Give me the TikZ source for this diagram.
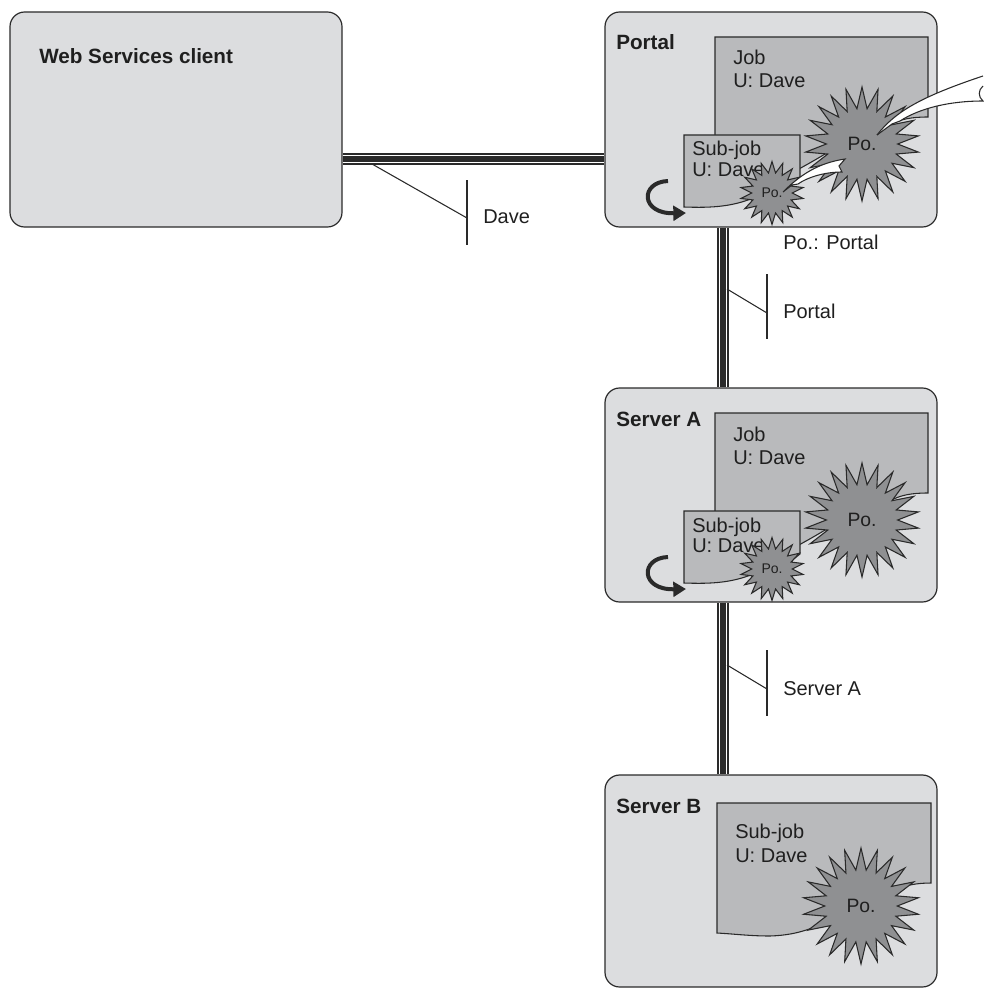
\documentclass[tikz,border=0pt]{standalone}
\usepackage{fontspec}
\setmainfont{Liberation Sans}
\usetikzlibrary{shapes.geometric,arrows.meta}
\definecolor{boxfill}{HTML}{DCDDDF}
\definecolor{docfill}{HTML}{B9BABC}
\definecolor{starfill}{HTML}{8F9092}
\definecolor{linec}{HTML}{2A2A2A}
\definecolor{txt}{HTML}{1F1F1F}
\tikzset{
  box/.style={draw=linec, fill=boxfill, line width=0.9pt, rounded corners=11pt, inner sep=0},
  doc/.style={draw=linec, fill=docfill, line width=0.8pt},
  burst/.style={star, star point ratio=1.6, draw=linec, fill=starfill, line width=0.8pt, inner sep=0, text=txt},
  lbl/.style={font=\fontsize{15}{17}\selectfont, text=txt, inner sep=0, anchor=base west},
  ttl/.style={font=\bfseries\fontsize{15.5}{18}\selectfont, text=txt, inner sep=0, anchor=base west},
  triple/.style={draw=linec, line width=9.4pt, postaction={draw=white, line width=5.55pt}, postaction={draw=linec, line width=3.8pt}},
  leader/.style={draw=linec, line width=0.8pt},
  carrow/.style={draw=linec, line width=3pt, -{Triangle[length=9.5pt,width=11pt]}},
  wline/.style={draw=linec, line width=0.8pt, line join=miter},
}
\begin{document}
\begin{tikzpicture}[x=0.75pt,y=-0.75pt]
\useasboundingbox (0,0) rectangle (983,988);

% boxes
\node[box, minimum width={332*0.75pt}, minimum height={215*0.75pt}] (client) at (176,119.5) {};
\node[box, minimum width={332*0.75pt}, minimum height={215*0.75pt}] (portal) at (771,119.5) {};
\node[box, minimum width={332*0.75pt}, minimum height={214*0.75pt}] (serverA) at (771,495) {};
\node[box, minimum width={332*0.75pt}, minimum height={212*0.75pt}] (serverB) at (771,881) {};

% connectors
\coordinate (hy) at (0,159);
\coordinate (vx) at (723,0);
\draw[triple] (client.east |- hy) -- (portal.west |- hy);
\draw[triple] (portal.south -| vx) -- (serverA.north -| vx);
\draw[triple] (serverA.south -| vx) -- (serverB.north -| vx);

% titles
\node[ttl] (tclient) at (39,64) {Web Services client};
\node[ttl] (tportal) at (616,50) {Portal};
\node[ttl] (tserverA) at (616,426) {Server A};
\node[ttl] (tserverB) at (616,813) {Server B};

% leader labels
\coordinate (d1) at (372,164); \coordinate (d2) at (467,218);
\coordinate (d3) at (467,180); \coordinate (d4) at (467,245);
\draw[leader] (d1) -- (d2); \draw[leader] (d3) -- (d4);
\node[lbl] (ldave) at (483,223) {Dave};

\coordinate (p1) at (727,289); \coordinate (p2) at (767,313);
\coordinate (p3) at (767,274); \coordinate (p4) at (767,339);
\draw[leader] (p1) -- (p2); \draw[leader] (p3) -- (p4);
\node[lbl] (lportal) at (783,318) {Portal};
\node[lbl] (lpo) at (783,249) {Po.: Portal};

\coordinate (s1) at (727,665); \coordinate (s2) at (767,689);
\coordinate (s3) at (767,650); \coordinate (s4) at (767,716);
\draw[leader] (s1) -- (s2); \draw[leader] (s3) -- (s4);
\node[lbl] (lserverA) at (783,695) {Server A};

% job groups in Portal and Server A
\foreach \g/\dy in {p/0,a/376}{
\begin{scope}[shift={(0,\dy)}]
  \draw[doc] (715,37) -- (928,37) -- (928,117) .. controls (912,117) and (900,119) .. (890,125) -- (835,148) .. controls (822,156) and (810,163) .. (797,170) -- (715,170) -- cycle;
  \node[lbl] (\g jobt) at (733,65) {Job};
  \node[lbl] (\g jobu) at (733,88) {U: Dave};
  \draw[doc] (684,135) -- (800,135) -- (800,178) -- (785,190) -- (760,195) .. controls (735,207) and (712,208) .. (684,207) -- cycle;
  \node[lbl] (\g subt) at (692,156) {Sub-job};
  \node[lbl] (\g subu) at (692,176) {U: Dave};
  \node[burst, star points=22, minimum size={114*0.75pt}, font=\fontsize{14.5}{16}\selectfont] (\g big) at (862,144) {Po.};
  \node[burst, star points=18, star point ratio=1.55, minimum size={63*0.75pt}, font=\fontsize{10.5}{12}\selectfont] (\g small) at (772,193) {Po.};
  \coordinate (\g c1) at (668,181);
  \coordinate (\g c2) at (686,213);
  \draw[carrow] (\g c1) .. controls (640,182) and (640,214) .. (\g c2);
\end{scope}
}

% white arrows in Portal
\fill[white] (877,135) .. controls (895,112) and (920,97) .. (983,76) -- (983,86) .. controls (978,90) and (978,97) .. (983,101) .. controls (950,101) and (920,108) .. (900,121) -- (892,124) -- cycle;
\draw[wline] (877,135) .. controls (895,112) and (920,97) .. (983,76);
\draw[wline] (983,86) .. controls (978,90) and (978,97) .. (983,101) .. controls (950,101) and (920,108) .. (900,121) -- (892,124) -- (877,135);
\filldraw[wline, fill=white] (783,192) .. controls (800,175) and (818,163) .. (845,159) -- (839,166) -- (842,172) .. controls (825,172) and (808,177) .. (798,184) -- (792,185) -- cycle;

% Server B
\draw[doc] (717,803) -- (931,803) -- (931,883) .. controls (918,883) and (905,885) .. (895,890) -- (835,918) .. controls (815,927) and (800,935) .. (770,936) .. controls (750,936) and (735,934) .. (717,933) -- cycle;
\node[lbl] (bsubt) at (735,838) {Sub-job};
\node[lbl] (bsubu) at (735,862) {U: Dave};
\node[burst, star points=22, minimum size={116*0.75pt}, font=\fontsize{14.5}{16}\selectfont] (bbig) at (861,906) {Po.};
\end{tikzpicture}
\end{document}
